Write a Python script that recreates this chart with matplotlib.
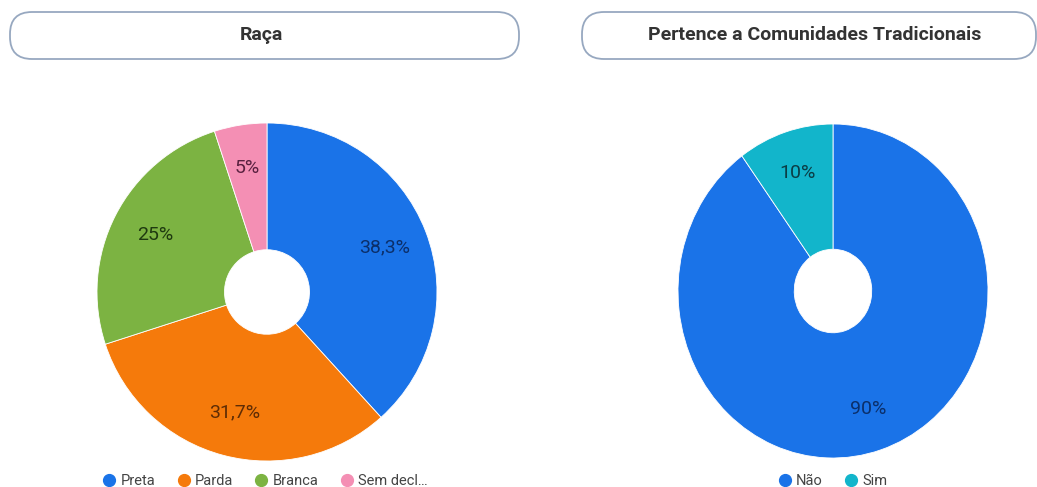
import numpy as np
import matplotlib.pyplot as plt
from matplotlib.patches import FancyBboxPatch
from matplotlib.lines import Line2D

plt.rcParams['font.family'] = ['Roboto', 'DejaVu Sans']

# Raça
raca_labels = ['Preta', 'Parda', 'Branca', 'Sem decl…']
raca_values = [38.3, 31.7, 25.0, 5.0]
raca_text = ['38,3%', '31,7%', '25%', '5%']
raca_colors = ['#1a73e8', '#f57a0b', '#7cb342', '#f48fb4']
raca_label_colors = ['#0b2f6a', '#5e2c05', '#1f3a10', '#5a2140']

# Pertence a Comunidades Tradicionais
comun_labels = ['Não', 'Sim']
comun_values = [90.0, 10.0]
comun_text = ['90%', '10%']
comun_colors = ['#1a73e8', '#12b5cb']
comun_label_colors = ['#0b2f6a', '#0b3d45']

W, H = 1037, 487
fig = plt.figure(figsize=(W / 100, H / 100), dpi=100)
fig.patch.set_facecolor('white')

# overlay in pixel units for the header boxes
bg = fig.add_axes([0, 0, 1, 1])
bg.set_xlim(0, W)
bg.set_ylim(H, 0)
bg.axis('off')


def px_axes(cx, cy, rx, ry):
    return fig.add_axes([(cx - rx) / W, (H - cy - ry) / H, 2 * rx / W, 2 * ry / H])


def title_box(x0, x1, y0, y1, text, tx):
    box = FancyBboxPatch((x0, y0), x1 - x0, y1 - y0,
                         boxstyle='round,pad=0,rounding_size=22',
                         facecolor='white', edgecolor='#97a8c0', linewidth=1.3)
    bg.add_patch(box)
    bg.text(tx, (y0 + y1) / 2, text, ha='center', va='center',
            fontsize=14, fontweight='bold', color='#333333')


def donut(ax, values, colors, texts, text_colors):
    wedges, _ = ax.pie(values, colors=colors, startangle=90, counterclock=False,
                       wedgeprops=dict(width=0.75, edgecolor='white', linewidth=0.6),
                       radius=1.0)
    for w, t, c in zip(wedges, texts, text_colors):
        ang = np.deg2rad((w.theta1 + w.theta2) / 2)
        ax.text(0.74 * np.cos(ang), 0.74 * np.sin(ang), t, ha='center',
                va='center', fontsize=14, color=c)
    ax.set_aspect('auto')
    ax.set_xlim(-1, 1)
    ax.set_ylim(-1, 1)
    ax.axis('off')


ax1 = px_axes(267, 292, 170, 169)
donut(ax1, raca_values, raca_colors, raca_text, raca_label_colors)

ax2 = px_axes(833, 291, 155, 167)
donut(ax2, comun_values, comun_colors, comun_text, comun_label_colors)

title_box(10, 519, 12, 59, 'Raça', 261)
title_box(582, 1036, 12, 59, 'Pertence a Comunidades Tradicionais', 815)


def legend(labels, colors, cx):
    handles = [Line2D([], [], marker='o', linestyle='', markersize=8.5,
                      markerfacecolor=c, markeredgecolor=c) for c in colors]
    fig.legend(handles, labels, loc='center', bbox_to_anchor=(cx / W, 1 - 481 / H),
               ncol=len(labels), frameon=False, fontsize=10.5, handletextpad=0.3,
               columnspacing=1.5, labelcolor='#444444', handlelength=0.9,
               borderpad=0, borderaxespad=0)


legend(raca_labels, raca_colors, 265)
legend(comun_labels, comun_colors, 833)

fig.savefig('out.png', dpi=100, facecolor='white')
